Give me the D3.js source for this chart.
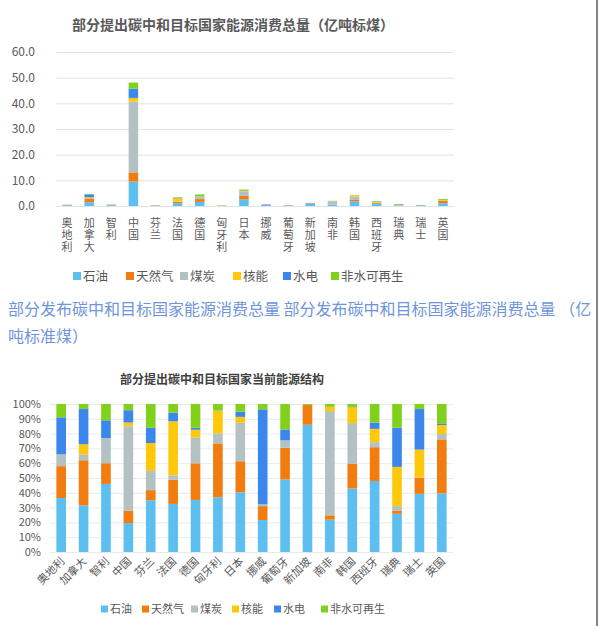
<!DOCTYPE html>
<html>
<head>
<meta charset="utf-8">
<script src="https://cdn.jsdelivr.net/npm/d3@7"></script>
<style>
  body { margin: 0; background: #fff; }
  text { font-family: "Noto Sans CJK SC", "Noto Sans", sans-serif; }
</style>
</head>
<body>
<div id="chart"></div>
<script>
// Countries and energy types
const countries = ["奥地利", "加拿大", "智利", "中国", "芬兰", "法国", "德国", "匈牙利", "日本",
  "挪威", "葡萄牙", "新加坡", "南非", "韩国", "西班牙", "瑞典", "瑞士", "英国"];
const types = ["石油", "天然气", "煤炭", "核能", "水电", "非水可再生"];
const colors = ["#5cbff0", "#f27c0f", "#b3c1c3", "#ffc80a", "#3b87ee", "#80d11c"];

// Top chart: consumption (亿吨标煤)
const oilTotal = [0.18, 1.48, 0.28, 9.5, 0.14, 1.1, 1.58, 0.11, 2.58, 0.13, 0.17, 1.03, 0.44, 1.85, 0.91, 0.21, 0.16, 1.07];
const gasTotal = [0.11, 1.43, 0.08, 3.6, 0.03, 0.55, 1.11, 0.11, 1.34, 0.06, 0.07, 0.16, 0.06, 0.71, 0.43, 0.02, 0.04, 0.99];
const coalTotal = [0.04, 0.19, 0.10, 27.6, 0.05, 0.10, 0.79, 0.02, 1.66, 0.01, 0.02, 0.0, 1.41, 1.18, 0.06, 0.02, 0.0, 0.10];
const nuclearTotal = [0, 0.32, 0, 1.4, 0.08, 1.24, 0.23, 0.05, 0.26, 0, 0, 0, 0.06, 0.46, 0.17, 0.21, 0.08, 0.16];
const hydroTotal = [0.12, 1.12, 0.07, 3.6, 0.04, 0.20, 0.06, 0.0, 0.22, 0.38, 0.03, 0, 0, 0.01, 0.08, 0.21, 0.11, 0.03];
const renewTotal = [0.05, 0.16, 0.07, 2.4, 0.06, 0.20, 0.73, 0.01, 0.33, 0.02, 0.06, 0.01, 0.04, 0.09, 0.24, 0.13, 0.01, 0.35];
const topTicks = [0, 10, 20, 30, 40, 50, 60];

// Bottom chart: structure (%)
const oilShare = [36.5, 31.5, 46, 19.5, 35, 32.5, 35.2, 37, 40.3, 21.6, 49, 86, 21.8, 43, 48, 25.8, 39.3, 39.6];
const gasShare = [21.5, 30.5, 14, 8.5, 6.8, 16.3, 24.7, 36.4, 21, 9.4, 21.4, 13.5, 3, 16.6, 22.8, 2.2, 10.8, 36.5];
const coalShare = [8, 4, 17, 57, 13, 3, 17.5, 6.8, 26, 1.2, 5, 0, 70.4, 27.5, 3.4, 3, 0.2, 3.6];
const nuclearShare = [0, 6.8, 0, 2.5, 18.8, 36.5, 5.2, 15.2, 4, 0, 0, 0, 2.8, 10.7, 9, 26.5, 18.9, 6.1];
const hydroShare = [25, 23.8, 12, 8.3, 10.3, 5.8, 1.3, 0.2, 3.5, 64.2, 7.4, 0, 0.1, 0.2, 4.3, 26.5, 27.4, 1.1];
const renewShare = [9, 3.4, 11, 4.2, 16.1, 5.9, 16.1, 4.4, 5.2, 3.6, 17.2, 0.5, 1.9, 2, 12.5, 16, 3.4, 13.1];
const pctTicks = [0, 0.1, 0.2, 0.3, 0.4, 0.5, 0.6, 0.7, 0.8, 0.9, 1];

const captionLines = ["部分发布碳中和目标国家能源消费总量 部分发布碳中和目标国家能源消费总量 （亿", "吨标准煤）"];

const width = 600, height = 626;
const svg = d3.select("#chart").append("svg")
  .attr("width", width).attr("height", height);

const toRows = (arrs) => countries.map((c, i) => {
  const row = { country: c };
  types.forEach((t, k) => { row[t] = arrs[k][i]; });
  return row;
});
const color = d3.scaleOrdinal().domain(types).range(colors);

// ---------- Top chart ----------
const topRows = toRows([oilTotal, gasTotal, coalTotal, nuclearTotal, hydroTotal, renewTotal]);
const x1 = d3.scaleBand().domain(countries).range([56, 454]).paddingInner(0.57).paddingOuter(0.285);
const y1 = d3.scaleLinear().domain([0, 60]).range([206, 52]);

svg.append("text")
  .attr("x", 233).attr("y", 30)
  .attr("text-anchor", "middle")
  .attr("font-size", 14).attr("font-weight", "bold").attr("fill", "#595959")
  .text("部分提出碳中和目标国家能源消费总量（亿吨标煤）");

const yAxis1 = svg.append("g")
  .attr("transform", "translate(56,0)")
  .call(d3.axisLeft(y1).tickValues(topTicks).tickFormat(d3.format(".1f"))
    .tickSize(-398).tickPadding(21));
yAxis1.select(".domain").remove();
yAxis1.selectAll("line").attr("stroke", "#dbe4e6");
yAxis1.selectAll("text").attr("fill", "#595959").attr("font-size", 12);

const stack1 = d3.stack().keys(types)(topRows);
svg.append("g").selectAll("g").data(stack1).join("g")
  .attr("fill", d => color(d.key))
  .selectAll("rect").data(d => d).join("rect")
  .attr("x", d => x1(d.data.country))
  .attr("width", x1.bandwidth())
  .attr("y", d => y1(d[1]))
  .attr("height", d => y1(d[0]) - y1(d[1]));

// vertical stacked labels (upright characters)
svg.append("g").selectAll("text").data(countries).join("text")
  .attr("x", c => x1(c) + x1.bandwidth() / 2)
  .attr("y", 217)
  .attr("writing-mode", "vertical-rl")
  .style("text-orientation", "upright")
  .style("letter-spacing", "1px")
  .attr("font-size", 11).attr("fill", "#595959")
  .text(c => c);

// top legend
const legendX1 = [73, 126, 180, 233, 283, 331];
const leg1 = svg.append("g").selectAll("g").data(types).join("g")
  .attr("transform", (d, i) => `translate(${legendX1[i]},276)`);
leg1.append("rect").attr("x", 0).attr("y", -4).attr("width", 8).attr("height", 8)
  .attr("fill", d => color(d));
leg1.append("text").attr("x", 10).attr("y", 4.5)
  .attr("font-size", 12.5).attr("fill", "#595959").text(d => d);

// ---------- Caption ----------
svg.append("g").selectAll("text").data(captionLines).join("text")
  .attr("x", 8).attr("y", (d, i) => 315 + i * 27)
  .attr("font-size", 16).attr("fill", "#6e95dc")
  .text(d => d);

// ---------- Bottom chart ----------
const botRows = toRows([oilShare, gasShare, coalShare, nuclearShare, hydroShare, renewShare]);
const x2 = d3.scaleBand().domain(countries).range([50, 453]).paddingInner(0.57).paddingOuter(0.285);
const y2 = d3.scaleLinear().domain([0, 1]).range([552, 404]);

svg.append("text")
  .attr("x", 222).attr("y", 384)
  .attr("text-anchor", "middle")
  .attr("font-size", 12).attr("font-weight", "bold").attr("fill", "#404040")
  .text("部分提出碳中和目标国家当前能源结构");

const yAxis2 = svg.append("g")
  .attr("transform", "translate(50,0)")
  .call(d3.axisLeft(y2).tickValues(pctTicks).tickFormat(d3.format(".0%"))
    .tickSize(-403).tickPadding(9));
yAxis2.select(".domain").remove();
yAxis2.selectAll("line").attr("stroke", "#e6ecee");
yAxis2.selectAll("text").attr("fill", "#595959").attr("font-size", 11);

const stack2 = d3.stack().keys(types).offset(d3.stackOffsetExpand)(botRows);
svg.append("g").selectAll("g").data(stack2).join("g")
  .attr("fill", d => color(d.key))
  .selectAll("rect").data(d => d).join("rect")
  .attr("x", d => x2(d.data.country))
  .attr("width", x2.bandwidth())
  .attr("y", d => y2(d[1]))
  .attr("height", d => y2(d[0]) - y2(d[1]));

// rotated labels
svg.append("g").selectAll("text").data(countries).join("text")
  .attr("font-size", 11).attr("fill", "#595959").attr("text-anchor", "end")
  .attr("transform", c => `translate(${x2(c) + x2.bandwidth() / 2 + 4},562) rotate(-45)`)
  .text(c => c);

// bottom legend
const legendX2 = [101, 142, 191, 232, 274, 321];
const leg2 = svg.append("g").selectAll("g").data(types).join("g")
  .attr("transform", (d, i) => `translate(${legendX2[i]},609)`);
leg2.append("rect").attr("x", 0).attr("y", -3.5).attr("width", 7).attr("height", 7)
  .attr("fill", d => color(d));
leg2.append("text").attr("x", 9).attr("y", 4)
  .attr("font-size", 11).attr("fill", "#595959").text(d => d);

// right edge border of the scanned page
svg.append("line")
  .attr("x1", 597).attr("x2", 597).attr("y1", 0).attr("y2", height)
  .attr("stroke", "#333").attr("stroke-width", 1.2);
</script>
</body>
</html>
